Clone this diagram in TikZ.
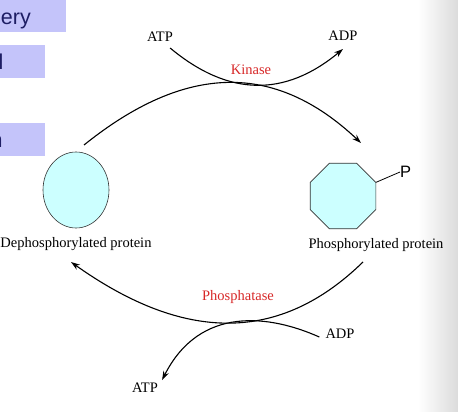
\documentclass[tikz,border=0pt]{standalone}
\usepackage{fontspec}
\setmainfont{Liberation Serif}
\setsansfont{Liberation Sans}
\usetikzlibrary{shapes.geometric, arrows.meta, positioning}

\definecolor{protfill}{RGB}{204,255,255}
\definecolor{enzred}{RGB}{215,40,40}
\definecolor{slidebox}{RGB}{196,196,250}
\definecolor{slidetext}{RGB}{30,30,100}

\begin{document}
\begin{tikzpicture}[x=1pt, y=-1pt,
  lbl/.style={font=\fontsize{14.5}{17}\selectfont, inner sep=0pt},
  enz/.style={lbl, text=enzred},
  prot/.style={draw=black!80, fill=protfill, line width=0.6pt, inner sep=0pt},
  flow/.style={line width=1.1pt, -{Stealth[length=9pt, width=6pt]}},
  frag/.style={font=\sffamily\fontsize{21.5}{24}\selectfont, text=slidetext, inner sep=0pt}]
\useasboundingbox (0,0) rectangle (458,412);
\clip (0,0) rectangle (458,412);
% leftovers of the slide
\shade[left color=white, right color=black!14] (418,0) rectangle (458,412);
\fill[slidebox] (0,0) rectangle (66,32);
\fill[slidebox] (0,45) rectangle (45,78);
\fill[slidebox] (0,123) rectangle (45,156);
\node[frag, anchor=base east] (frag1) at (31,25) {ery};
\node[frag, anchor=base] (frag2) at (1,70) {l};
\node[frag, anchor=base west] (frag3) at (-9.5,147) {n};
% the two forms of the protein
\node[prot, ellipse, minimum width=66pt, minimum height=76pt] (deP) at (76,190) {};
\node[lbl, below=9pt of deP] (deP-lbl) {Dephosphorylated protein};
\node[prot, regular polygon, regular polygon sides=8, minimum size=71pt] (Pprot) at (343,196) {};
\node[lbl, anchor=north] (Pprot-lbl) at (376,238) {Phosphorylated protein};
\node[font=\sffamily\fontsize{16.5}{18}\selectfont, inner sep=0pt, anchor=west] (phos) at (400,172) {P};
\draw[line width=0.8pt] (Pprot.corner 8) -- (phos.west);
% kinase step
\node[lbl] (atpK) at (160,37) {ATP};
\node[lbl] (adpK) at (343,36) {ADP};
\node[enz] (kinase) at (251,70) {Kinase};
\coordinate (up-from) at (84,145);
\coordinate (up-to) at (361,143);
\draw[flow] (up-from) .. controls (186,63) and (275,62) .. (up-to);
\draw[flow] ([shift={(-3,6)}]atpK.south east) .. controls (229,97) and (285,97) .. ([yshift=-8pt]adpK.south);
% phosphatase step
\node[lbl] (adpP) at (340,334) {ADP};
\node[lbl] (atpP) at (145,388) {ATP};
\node[enz] (phosphatase) at (238,297) {Phosphatase};
\coordinate (down-from) at (363,262);
\coordinate (down-to) at (71,262);
\draw[flow] (down-from) .. controls (280,343) and (185,343) .. (down-to);
\draw[flow] ([shift={(-6,3)}]adpP.west) .. controls (270,315) and (200,305) .. ([shift={(4,-3)}]atpP.north east);
\end{tikzpicture}
\end{document}
